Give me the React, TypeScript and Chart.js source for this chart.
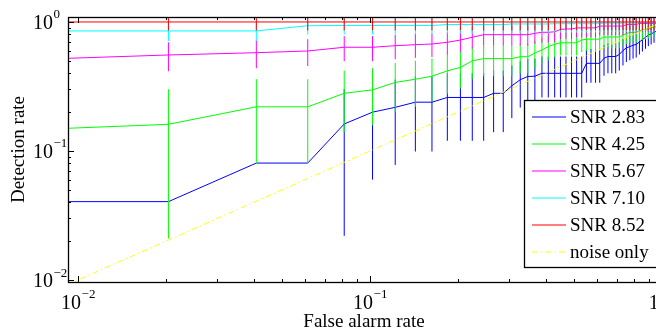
import React, { useEffect, useRef } from 'react';
import { Chart, registerables } from 'chart.js';

Chart.register(...registerables);

// ---------- data ----------
const falseAlarm = [
  0.00924, 0.0204, 0.0408, 0.0612, 0.0816, 0.102, 0.122, 0.143, 0.163, 0.184,
  0.204, 0.224, 0.245, 0.265, 0.286, 0.306, 0.327, 0.347, 0.367, 0.388,
  0.408, 0.429, 0.449, 0.469, 0.49, 0.51, 0.531, 0.551, 0.571, 0.592,
  0.612, 0.633, 0.653, 0.673, 0.694, 0.714, 0.735, 0.755, 0.776, 0.796,
  0.816, 0.837, 0.857, 0.878, 0.898, 0.918, 0.939, 0.959, 0.98, 1.0,
];

const snr283 = [
  0.0405, 0.0405, 0.0806, 0.0806, 0.162, 0.2, 0.218, 0.239, 0.239, 0.26,
  0.26, 0.26, 0.26, 0.28, 0.28, 0.32, 0.357, 0.378, 0.38, 0.4,
  0.4, 0.4, 0.4, 0.4, 0.4, 0.4, 0.4, 0.478, 0.478, 0.478,
  0.478, 0.523, 0.54, 0.54, 0.54, 0.56, 0.6, 0.63, 0.645, 0.66,
  0.67, 0.7, 0.73, 0.76, 0.79, 0.81, 0.83, 0.85, 0.87, 0.89,
];

const snr425 = [
  0.15, 0.161, 0.22, 0.22, 0.28, 0.298, 0.34, 0.36, 0.38, 0.418,
  0.445, 0.5, 0.52, 0.52, 0.52, 0.52, 0.538, 0.538, 0.575, 0.607,
  0.645, 0.672, 0.69, 0.69, 0.69, 0.69, 0.725, 0.736, 0.736, 0.736,
  0.736, 0.765, 0.765, 0.765, 0.765, 0.765, 0.79, 0.815, 0.825, 0.83,
  0.835, 0.852, 0.867, 0.875, 0.885, 0.9, 0.91, 0.92, 0.935, 0.95,
];

const snr567 = [
  0.523, 0.555, 0.578, 0.596, 0.637, 0.637, 0.655, 0.667, 0.675, 0.696,
  0.725, 0.761, 0.797, 0.797, 0.797, 0.797, 0.797, 0.797, 0.817, 0.832,
  0.832, 0.84, 0.875, 0.883, 0.883, 0.9, 0.9, 0.9, 0.9, 0.9,
  0.93, 0.93, 0.93, 0.93, 0.93, 0.93, 0.93, 0.955, 0.955, 0.955,
  0.955, 0.975, 0.975, 0.975, 0.975, 0.975, 0.975, 0.975, 0.975, 0.975,
];

const snr710 = [
  0.852, 0.852, 0.852, 0.936, 0.94, 0.94, 0.94, 0.94, 0.94, 0.955,
  0.955, 0.955, 0.955, 0.955, 0.955, 0.965, 0.965, 0.965, 0.965, 0.965,
  0.965, 0.97, 0.97, 0.97, 0.97, 0.97, 0.97, 0.97, 0.97, 0.97,
  0.97, 0.98, 0.98, 0.98, 0.98, 0.98, 0.98, 0.98, 0.98, 0.98,
  0.98, 0.99, 0.99, 0.99, 0.99, 0.99, 0.99, 0.99, 0.99, 0.99,
];

const snr852 = [
  1, 1, 1, 1, 1, 1, 1, 1, 1, 1,
  1, 1, 1, 1, 1, 1, 1, 1, 1, 1,
  1, 1, 1, 1, 1, 1, 1, 1, 1, 1,
  1, 1, 1, 1, 1, 1, 1, 1, 1, 1,
  1, 1, 1, 1, 1, 1, 1, 1, 1, 1,
];

// noise only: detection rate equals false alarm rate (the diagonal)
const noiseOnly = falseAlarm;

const errorHalfWidth = 0.14;

const seriesLabels = ['SNR 2.83', 'SNR 4.25', 'SNR 5.67', 'SNR 7.10', 'SNR 8.52'];
const noiseLabel = 'noise only';
const seriesColors = ['#0000ff', '#00ff00', '#ff00ff', '#00ffff', '#ff0000'];
const noiseColor = '#ffff00';

const xTickLabels = [
  { value: 0.01, base: '10', exp: '\u22122' },
  { value: 0.1, base: '10', exp: '\u22121' },
  { value: 1, base: '10', exp: '0' },
];
const yTickLabels = [
  { value: 0.01, base: '10', exp: '\u22122' },
  { value: 0.1, base: '10', exp: '\u22121' },
  { value: 1, base: '10', exp: '0' },
];
const xTitle = 'False alarm rate';
const yTitle = 'Detection rate';

const X_MIN = 0.00924;
const X_MAX = 1.0;
const Y_MIN = 0.00965;
const Y_MAX = 1.093;

const FONT = '"Liberation Serif", "Times New Roman", "DejaVu Serif", serif';
const noiseDash = [6, 3, 1.5, 3];

// ---------- helpers ----------
function errorBarPoints(vals: number[]) {
  const pts: { x: number; y: number | null }[] = [];
  vals.forEach((v, i) => {
    const lo = v - errorHalfWidth;
    const hi = v + errorHalfWidth;
    if (lo <= 0) return;
    pts.push({ x: falseAlarm[i], y: lo }, { x: falseAlarm[i], y: hi }, { x: falseAlarm[i], y: null });
  });
  return pts;
}

function linePoints(vals: number[]) {
  return vals.map((v, i) => ({ x: falseAlarm[i], y: v }));
}

const framePlugin = {
  id: 'matlabFrame',
  afterDraw(chart: any) {
    const { ctx, chartArea: a, scales } = chart;
    const xs = scales.x;
    const ys = scales.y;
    ctx.save();
    ctx.strokeStyle = '#000';
    ctx.lineWidth = 1;

    // tick marks (inward, all four sides)
    ctx.beginPath();
    for (let e = -3; e <= 0; e++) {
      for (let m = 1; m <= 9; m++) {
        const v = m * Math.pow(10, e);
        const len = m === 1 ? 6 : 3;
        if (v >= xs.min && v <= xs.max) {
          const px = Math.round(xs.getPixelForValue(v)) + 0.5;
          ctx.moveTo(px, a.bottom);
          ctx.lineTo(px, a.bottom - len);
          ctx.moveTo(px, a.top);
          ctx.lineTo(px, a.top + len);
        }
        if (v >= ys.min && v <= ys.max) {
          const py = Math.round(ys.getPixelForValue(v)) + 0.5;
          ctx.moveTo(a.left, py);
          ctx.lineTo(a.left + len, py);
          ctx.moveTo(a.right, py);
          ctx.lineTo(a.right - len, py);
        }
      }
    }
    ctx.stroke();

    // box
    ctx.lineWidth = 1.3;
    ctx.strokeRect(Math.round(a.left) + 0.5, Math.round(a.top) + 0.5,
      Math.round(a.right - a.left), Math.round(a.bottom - a.top));
    ctx.lineWidth = 1;

    // tick labels
    ctx.fillStyle = '#000';
    const baseFont = `20px ${FONT}`;
    const expFont = `13px ${FONT}`;
    ctx.textBaseline = 'alphabetic';
    yTickLabels.forEach((t) => {
      const py = ys.getPixelForValue(t.value);
      ctx.font = baseFont;
      ctx.textAlign = 'right';
      ctx.fillText(t.base, 53, py + 7);
      ctx.font = expFont;
      ctx.textAlign = 'left';
      ctx.fillText(t.exp, 53.5, py - 3.5);
    });
    xTickLabels.forEach((t) => {
      const px = xs.getPixelForValue(t.value);
      ctx.font = baseFont;
      const wb = ctx.measureText(t.base).width;
      ctx.font = expFont;
      const we = ctx.measureText(t.exp).width;
      const start = px - (wb + we) / 2;
      ctx.textAlign = 'left';
      ctx.font = baseFont;
      ctx.fillText(t.base, start, 309);
      ctx.font = expFont;
      ctx.fillText(t.exp, start + wb + 0.5, 297.5);
    });

    // axis titles
    ctx.font = `19px ${FONT}`;
    ctx.textAlign = 'center';
    ctx.fillText(xTitle, (a.left + a.right) / 2 - 1, 327);
    ctx.save();
    ctx.translate(24, (a.top + a.bottom) / 2);
    ctx.rotate(-Math.PI / 2);
    ctx.fillText(yTitle, 0, 0);
    ctx.restore();

    // legend
    const lx = 524.5, ly = 100.5, lw = 136, lh = 167;
    ctx.fillStyle = '#fff';
    ctx.fillRect(lx, ly, lw, lh);
    ctx.strokeStyle = '#000';
    ctx.lineWidth = 1.3;
    ctx.strokeRect(lx, ly, lw, lh);
    const rowY0 = 116.7, rowStep = 27.1;
    const items = seriesLabels.map((l, i) => ({ label: l, color: seriesColors[i], dash: [] as number[] }));
    items.push({ label: noiseLabel, color: noiseColor, dash: noiseDash });
    items.forEach((it, i) => {
      const y = Math.round(rowY0 + i * rowStep);
      ctx.save();
      ctx.strokeStyle = it.color;
      ctx.lineWidth = 1.2;
      ctx.setLineDash(it.dash);
      ctx.beginPath();
      ctx.moveTo(532, y);
      ctx.lineTo(566, y);
      ctx.stroke();
      ctx.restore();
      ctx.fillStyle = '#000';
      ctx.font = `19px ${FONT}`;
      ctx.textAlign = 'left';
      ctx.textBaseline = 'middle';
      ctx.fillText(it.label, 570, y + 1.5);
    });
    ctx.restore();
  },
};

export default function App() {
  const ref = useRef<HTMLCanvasElement | null>(null);

  useEffect(() => {
    if (!ref.current) return;
    const series = [snr283, snr425, snr567, snr710, snr852];
    // Chart.js draws dataset 0 on top, so list from top layer to bottom layer
    const datasets: any[] = [];
    datasets.push({
      label: noiseLabel,
      data: noiseOnly.map((v, i) => ({ x: falseAlarm[i], y: v })),
      borderColor: noiseColor,
      borderWidth: 1,
      borderDash: noiseDash,
      pointRadius: 0,
      fill: false,
      clip: 0,
    });
    for (let s = series.length - 1; s >= 0; s--) {
      datasets.push({
        label: seriesLabels[s],
        data: linePoints(series[s]),
        borderColor: seriesColors[s],
        borderWidth: 1,
        pointRadius: 0,
        fill: false,
        clip: 0,
      });
      datasets.push({
        label: seriesLabels[s] + ' error',
        data: errorBarPoints(series[s]),
        borderColor: seriesColors[s],
        borderWidth: 1,
        pointRadius: 0,
        spanGaps: false,
        fill: false,
        clip: 0,
      });
    }

    const chart = new Chart(ref.current, {
      type: 'line',
      data: { datasets },
      options: {
        animation: false,
        responsive: false,
        devicePixelRatio: 1,
        events: [],
        layout: { padding: { left: 68, top: 17, right: 18, bottom: 51 } },
        elements: { point: { radius: 0 }, line: { tension: 0 } },
        plugins: { legend: { display: false }, tooltip: { enabled: false } },
        scales: {
          x: { type: 'logarithmic', min: X_MIN, max: X_MAX, display: false, bounds: 'data' },
          y: { type: 'logarithmic', min: Y_MIN, max: Y_MAX, display: false, bounds: 'data' },
        },
      } as any,
      plugins: [framePlugin],
    });
    return () => chart.destroy();
  }, []);

  return (
    <div style={{ position: 'fixed', left: 0, top: 0, width: 656, height: 333, overflow: 'hidden', background: '#fff' }}>
      <canvas ref={ref} width={680} height={333} style={{ display: 'block', width: 680, height: 333 }} />
    </div>
  );
}
